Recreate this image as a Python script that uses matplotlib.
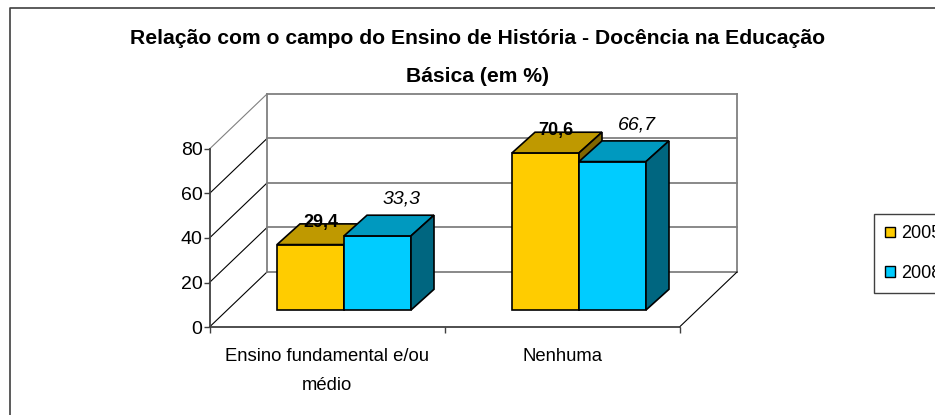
#!/usr/bin/env python3

import matplotlib
matplotlib.use('Agg')
import matplotlib.pyplot as plt
from matplotlib.patches import Polygon, Patch
from matplotlib.lines import Line2D

categories = ['Ensino fundamental e/ou\nmédio', 'Nenhuma']
series_names = ['2005', '2008']
values_2005 = [29.4, 70.6]
values_2008 = [33.3, 66.7]
labels_2005 = ['29,4', '70,6']
labels_2008 = ['33,3', '66,7']
y_ticks = [0, 20, 40, 60, 80]
title = 'Relação com o campo do Ensino de História - Docência na Educação\nBásica (em %)'

W, H = 935, 415
plt.rcParams['font.family'] = ['Liberation Sans', 'DejaVu Sans']

# front plane of the 3d box, in pixels
LEFT, RIGHT, BOTTOM, TOP = 209.5, 679.5, 327.0, 149.0
CAT_PX = (RIGHT - LEFT) / 2
VAL_PX = (BOTTOM - TOP) / 80
# depth of the box and of one bar, converted to data units
DEPTH_X = 57.5 / CAT_PX
DEPTH_Y = 55.0 / VAL_PX
BAR_DX = 23.0 / CAT_PX
BAR_DY = 20.7 / VAL_PX
BAR_W = 67.0 / CAT_PX
BAR_SHIFT = -50.0 / CAT_PX
BAR_BASE = 17.0 / VAL_PX

fig = plt.figure(figsize=(W / 100, H / 100), dpi=100, facecolor='white')
ax = fig.add_axes([LEFT / W, 1 - BOTTOM / H, (RIGHT - LEFT) / W, (BOTTOM - TOP) / H])
ax.set_xlim(0, 2)
ax.set_ylim(0, 80)
ax.patch.set_visible(False)

# chart border, only top and left are in the frame
fig.add_artist(Line2D([9.5 / W, 9.5 / W, 1], [0, 1 - 8 / H, 1 - 8 / H], color='#404040', lw=1.2))

# back wall and side lines
for v in y_ticks:
    ax.plot([DEPTH_X, 2 + DEPTH_X], [v + DEPTH_Y] * 2, color='#808080', lw=1.3, clip_on=False, zorder=1)
    ax.plot([0, DEPTH_X], [v, v + DEPTH_Y], color='#808080' if v == 80 else 'black', lw=0.8, clip_on=False, zorder=1)
ax.plot([DEPTH_X, DEPTH_X], [DEPTH_Y, 80 + DEPTH_Y], color='#808080', lw=1.3, clip_on=False, zorder=1)
ax.plot([2 + DEPTH_X, 2 + DEPTH_X], [DEPTH_Y, 80 + DEPTH_Y], color='#808080', lw=1.3, clip_on=False, zorder=1)
ax.plot([2, 2 + DEPTH_X], [0, DEPTH_Y], color='black', lw=0.8, clip_on=False, zorder=1)


def draw_bars(vals, offset, front, top, side, labels, lab_font, lab_off):
    for i, v in enumerate(vals):
        x0 = i + 0.5 + BAR_SHIFT + offset * BAR_W
        x1 = x0 + BAR_W
        y0 = BAR_BASE
        y1 = BAR_BASE + v
        ax.bar(x0, v, BAR_W, bottom=y0, align='edge', color=front, edgecolor='black', lw=1.2, zorder=3 + offset, clip_on=False)
        ax.add_patch(Polygon([(x0, y1), (x1, y1), (x1 + BAR_DX, y1 + BAR_DY), (x0 + BAR_DX, y1 + BAR_DY)],
                             facecolor=top, edgecolor='black', lw=1.2, zorder=3 + offset, clip_on=False))
        ax.add_patch(Polygon([(x1, y0), (x1 + BAR_DX, y0 + BAR_DY), (x1 + BAR_DX, y1 + BAR_DY), (x1, y1)],
                             facecolor=side, edgecolor='black', lw=1.2, zorder=3 + offset, clip_on=False))
        ax.annotate(labels[i], ((x0 + x1) / 2, y1), xytext=(lab_off[0] * 0.72, lab_off[1] * 0.72),
                    textcoords='offset points', ha='center', va='center', zorder=6,
                    annotation_clip=False, **lab_font)


draw_bars(values_2005, 0, '#FFCC00', '#BF9900', '#806600', labels_2005, {'fontweight': 'bold', 'fontsize': 13}, (10, 22))
draw_bars(values_2008, 1, '#00CCFF', '#0099BF', '#006680', labels_2008, {'fontstyle': 'italic', 'fontsize': 14}, (24, 37))

# axes
for s in ['top', 'right']:
    ax.spines[s].set_visible(False)
for s in ['left', 'bottom']:
    ax.spines[s].set_color('#404040')
    ax.spines[s].set_linewidth(1.3)
    ax.spines[s].set_zorder(2)
ax.set_yticks(y_ticks)
ax.set_xticks([0, 1, 2])
ax.set_xticklabels([])
ax.set_xticks([0.5, 1.5], minor=True)
ax.set_xticklabels(categories, minor=True, fontsize=13.3, linespacing=1.95, ha='center')
ax.tick_params(axis='y', labelsize=14, length=4, width=1, color='#404040', pad=1)
ax.tick_params(axis='x', which='major', length=4, width=1, color='#404040')
ax.tick_params(axis='x', which='minor', length=0, pad=15)

fig.text(478 / W, 1 - 57.5 / H, title, ha='center', va='center', fontsize=15.2, fontweight='bold', linespacing=2.25)

handles = [Patch(facecolor='#FFCC00', edgecolor='black', lw=1.0, label=series_names[0]),
           Patch(facecolor='#00CCFF', edgecolor='black', lw=1.0, label=series_names[1])]
fig.legend(handles=handles, loc='upper left', bbox_to_anchor=(874 / W, 1 - 214.5 / H), bbox_transform=fig.transFigure,
           fontsize=13, frameon=True, fancybox=False, framealpha=1, edgecolor='#404040',
           handlelength=0.55, handleheight=0.55, handletextpad=0.33, labelspacing=1.25, borderaxespad=0, borderpad=0.6)

fig.savefig('out.png', dpi=100)
